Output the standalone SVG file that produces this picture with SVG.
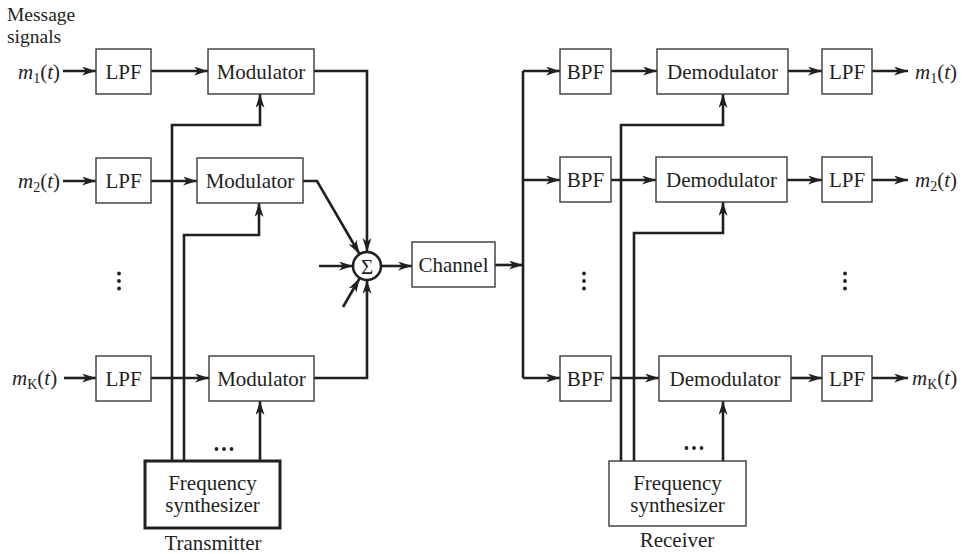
<svg xmlns="http://www.w3.org/2000/svg" width="967" height="554" viewBox="0 0 967 554">
<style>
.box{fill:#fff;stroke:#3a3a3a;stroke-width:1.4}
.thick{fill:#fff;stroke:#231f20;stroke-width:3}
.t{font-family:"Liberation Serif","Times New Roman",serif;font-size:21px;fill:#231f20}
.c{text-anchor:middle}
.w{fill:none;stroke:#231f20;stroke-width:2.6;marker-end:url(#ah)}
.n{fill:none;stroke:#231f20;stroke-width:2.6}
.i{font-style:italic}
.s{font-size:14px}
.dot{fill:#231f20}
</style>
<defs>
<marker id="ah" markerUnits="userSpaceOnUse" markerWidth="15" markerHeight="10" refX="14" refY="4.5" orient="auto" viewBox="0 0 15 10">
<path d="M14,4.5 L0,0 L4,4.5 L0,9 Z" fill="#231f20"/>
</marker>
</defs>
<rect width="967" height="554" fill="#fff"/>

<g id="connectors">
<path class="w" d="M63,71 H96"/>
<path class="w" d="M151,71 H208"/>
<path class="w" d="M63,181 H96"/>
<path class="w" d="M151,181 H197"/>
<path class="w" d="M64,378 H96"/>
<path class="w" d="M151,378 H209"/>
<path class="w" d="M172,461 V125 H260 V94"/>
<path class="w" d="M184,461 V235 H259 V203"/>
<path class="w" d="M260,461 V401"/>
<path class="w" d="M314,71 H367 V252"/>
<path class="w" d="M303,181 H317 L359.5,254"/>
<path class="w" d="M319,266 H353"/>
<path class="w" d="M343,307 L359.5,278.5"/>
<path class="w" d="M314,378 H367 V280"/>
<path class="w" d="M381,266 H412"/>
<path class="w" d="M495,265 H523"/>
<path class="n" d="M523,71 V378"/>
<path class="w" d="M523,71 H560"/>
<path class="w" d="M523,180 H560"/>
<path class="w" d="M523,378 H560"/>
<path class="w" d="M611,71 H657"/>
<path class="w" d="M611,180 H656"/>
<path class="w" d="M611,378 H659"/>
<path class="w" d="M788,71 H822"/>
<path class="w" d="M787,180 H822"/>
<path class="w" d="M791,378 H822"/>
<path class="w" d="M872,71 H908"/>
<path class="w" d="M872,180 H908"/>
<path class="w" d="M872,378 H908"/>
<path class="w" d="M621,461 V125 H723 V94"/>
<path class="w" d="M634,461 V233 H723 V202"/>
<path class="w" d="M723,461 V401"/>
</g>

<g id="labels-left">
<text class="t" x="7" y="21" style="font-size:19.5px">Message</text>
<text class="t" x="7" y="43" style="font-size:19.5px">signals</text>
<text class="t" x="18" y="79"><tspan class="i">m</tspan><tspan class="s" dy="4">1</tspan><tspan dy="-4">(</tspan><tspan class="i">t</tspan>)</text>
<text class="t" x="18" y="188"><tspan class="i">m</tspan><tspan class="s" dy="4">2</tspan><tspan dy="-4">(</tspan><tspan class="i">t</tspan>)</text>
<text class="t" x="12" y="385"><tspan class="i">m</tspan><tspan class="s" dy="4">K</tspan><tspan dy="-4">(</tspan><tspan class="i">t</tspan>)</text>
</g>

<g id="lpf1"><rect class="box" x="96" y="49" width="55" height="45"/><text class="t c" x="123.5" y="79">LPF</text></g>
<g id="mod1"><rect class="box" x="208" y="49" width="106" height="45"/><text class="t c" x="261" y="79">Modulator</text></g>
<g id="lpf2"><rect class="box" x="96" y="158" width="55" height="45"/><text class="t c" x="123.5" y="188">LPF</text></g>
<g id="mod2"><rect class="box" x="197" y="158" width="106" height="45"/><text class="t c" x="250" y="188">Modulator</text></g>
<g id="lpfk"><rect class="box" x="96" y="356" width="55" height="45"/><text class="t c" x="123.5" y="386">LPF</text></g>
<g id="modk"><rect class="box" x="209" y="356" width="105" height="45"/><text class="t c" x="261.5" y="386">Modulator</text></g>
<g id="tx-synth"><rect class="thick" x="145" y="461" width="135" height="67"/><text class="t c" x="212.5" y="490">Frequency</text><text class="t c" x="212.5" y="512">synthesizer</text></g>
<g id="tx-label"><text class="t c" x="213" y="550">Transmitter</text></g>
<g id="tx-dots">
<circle class="dot" cx="119" cy="273.5" r="1.9"/><circle class="dot" cx="119" cy="281" r="1.9"/><circle class="dot" cx="119" cy="288.5" r="1.9"/>
<circle class="dot" cx="216.5" cy="449" r="1.9"/><circle class="dot" cx="224" cy="449" r="1.9"/><circle class="dot" cx="231.5" cy="449" r="1.9"/>
</g>

<g id="summer"><circle cx="367" cy="266" r="14" fill="#fff" stroke="#231f20" stroke-width="2.6"/><text class="t c" x="367" y="273.5" style="font-size:21px">Σ</text></g>
<g id="channel"><rect class="box" x="412" y="242" width="83" height="45"/><text class="t c" x="453.5" y="272">Channel</text></g>

<g id="bpf1"><rect class="box" x="560" y="49" width="51" height="45"/><text class="t c" x="585.5" y="79">BPF</text></g>
<g id="demod1"><rect class="box" x="657" y="49" width="131" height="45"/><text class="t c" x="722.5" y="79">Demodulator</text></g>
<g id="rlpf1"><rect class="box" x="822" y="49" width="50" height="45"/><text class="t c" x="847" y="79">LPF</text></g>
<g id="bpf2"><rect class="box" x="560" y="157" width="51" height="45"/><text class="t c" x="585.5" y="187">BPF</text></g>
<g id="demod2"><rect class="box" x="656" y="157" width="131" height="45"/><text class="t c" x="721.5" y="187">Demodulator</text></g>
<g id="rlpf2"><rect class="box" x="822" y="157" width="50" height="45"/><text class="t c" x="847" y="187">LPF</text></g>
<g id="bpfk"><rect class="box" x="560" y="356" width="51" height="45"/><text class="t c" x="585.5" y="386">BPF</text></g>
<g id="demodk"><rect class="box" x="659" y="356" width="132" height="45"/><text class="t c" x="725" y="386">Demodulator</text></g>
<g id="rlpfk"><rect class="box" x="822" y="356" width="50" height="45"/><text class="t c" x="847" y="386">LPF</text></g>
<g id="rx-synth"><rect class="box" x="609" y="461" width="137" height="65"/><text class="t c" x="677.5" y="490">Frequency</text><text class="t c" x="677.5" y="512">synthesizer</text></g>
<g id="rx-label"><text class="t c" x="677" y="547">Receiver</text></g>
<g id="rx-dots">
<circle class="dot" cx="584" cy="273.5" r="1.9"/><circle class="dot" cx="584" cy="281" r="1.9"/><circle class="dot" cx="584" cy="288.5" r="1.9"/>
<circle class="dot" cx="845" cy="273.5" r="1.9"/><circle class="dot" cx="845" cy="281" r="1.9"/><circle class="dot" cx="845" cy="288.5" r="1.9"/>
<circle class="dot" cx="686.5" cy="448" r="1.9"/><circle class="dot" cx="694" cy="448" r="1.9"/><circle class="dot" cx="701.5" cy="448" r="1.9"/>
</g>

<g id="labels-right">
<text class="t" x="915" y="79"><tspan class="i">m</tspan><tspan class="s" dy="4">1</tspan><tspan dy="-4">(</tspan><tspan class="i">t</tspan>)</text>
<text class="t" x="915" y="187"><tspan class="i">m</tspan><tspan class="s" dy="4">2</tspan><tspan dy="-4">(</tspan><tspan class="i">t</tspan>)</text>
<text class="t" x="912" y="385"><tspan class="i">m</tspan><tspan class="s" dy="4">K</tspan><tspan dy="-4">(</tspan><tspan class="i">t</tspan>)</text>
</g>
</svg>
